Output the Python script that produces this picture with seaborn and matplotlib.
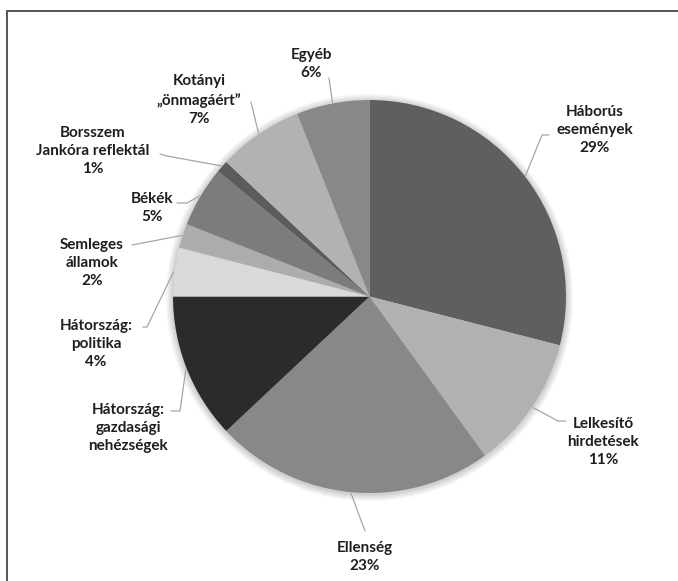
import numpy as np
import matplotlib
matplotlib.use("Agg")
import matplotlib.pyplot as plt
import seaborn as sns
from matplotlib.lines import Line2D
from matplotlib.patches import Circle

sns.set_theme(style="white")
plt.rcParams['font.family'] = ['Lato', 'DejaVu Sans']

categories = ["Háborús\nesemények", "Lelkesítő\nhirdetések", "Ellenség",
              "Hátország:\ngazdasági\nnehézségek", "Hátország:\npolitika",
              "Semleges\nállamok", "Békék", "Borsszem\nJankóra reflektál",
              "Kotányi\n„önmagáért”", "Egyéb"]
values = [29, 11, 23, 12, 4, 2, 5, 1, 7, 6]
show_pct = [True, True, True, False, True, True, True, True, True, True]
colors = ["#5f5f5f", "#b1b1b1", "#888888", "#2b2b2b", "#d9d9d9",
          "#acacac", "#7c7c7c", "#5c5c5c", "#b2b2b2", "#888888"]

W, H = 678, 581
fig = plt.figure(figsize=(W / 100, H / 100), dpi=100)
ax = fig.add_axes([0, 0, 1, 1])
ax.set_xlim(0, W)
ax.set_ylim(0, H)
ax.set_aspect('equal')
ax.axis('off')

cx, cy, r = 369.5, H - 296.5, 196.5

# soft shadow
for i in range(8, 0, -1):
    ax.add_patch(Circle((cx, cy - 1), r + i * 0.9, color="#000000",
                        alpha=0.025, lw=0, zorder=1))

wedges, _ = ax.pie(values, colors=colors, startangle=90, counterclock=False,
                   center=(cx, cy), radius=r, frame=True,
                   wedgeprops=dict(linewidth=0, zorder=2))
ax.set_xlim(0, W)
ax.set_ylim(0, H)
ax.axis('off')

# label layout (pixel coords, y from top)
text_pos = [(595, 130), (603, 442), (365, 557), (128, 428), (96, 344),
            (92, 263), (152, 208), (93, 151), (199, 100), (311, 64)]
leader_pts = [[(549, 135), (542, 135)], [(566, 421), (558, 421)], [(365, 531)],
              [(171, 411), (180, 411)], [(143, 327), (147, 327)], [(132, 245)],
              [(177, 203), (187, 203)], [(160, 154), (167, 156)], [(251, 102)],
              [(329, 78)]]

total = sum(values)
cum = 0
for i, (cat, v) in enumerate(zip(categories, values)):
    mid = cum + v / 2
    cum += v
    ang = np.deg2rad(90 - 360 * mid / total)
    ax_pt = (cx + (r + 1) * np.cos(ang), cy + (r + 1) * np.sin(ang))
    pts = [(x, H - y) for x, y in leader_pts[i]] + [ax_pt]
    xs, ys = zip(*pts)
    ax.plot(xs, ys, color="#a6a6a6", lw=0.9, zorder=3)
    label = cat + (f"\n{v}%" if show_pct[i] else "")
    tx, ty = text_pos[i]
    ax.text(tx, H - ty, label, ha='center', va='center', fontsize=11,
            fontweight='bold', color="#1e1e1e", linespacing=1.38, zorder=4)

# frame lines (top and left)
fig.add_artist(Line2D([7 / W, 1], [1 - 11 / H, 1 - 11 / H],
                      transform=fig.transFigure, color="#555555", lw=1.4))
fig.add_artist(Line2D([7 / W, 7 / W], [0, 1 - 11 / H],
                      transform=fig.transFigure, color="#555555", lw=1.4))

fig.savefig("out.png", dpi=100, facecolor="white")
